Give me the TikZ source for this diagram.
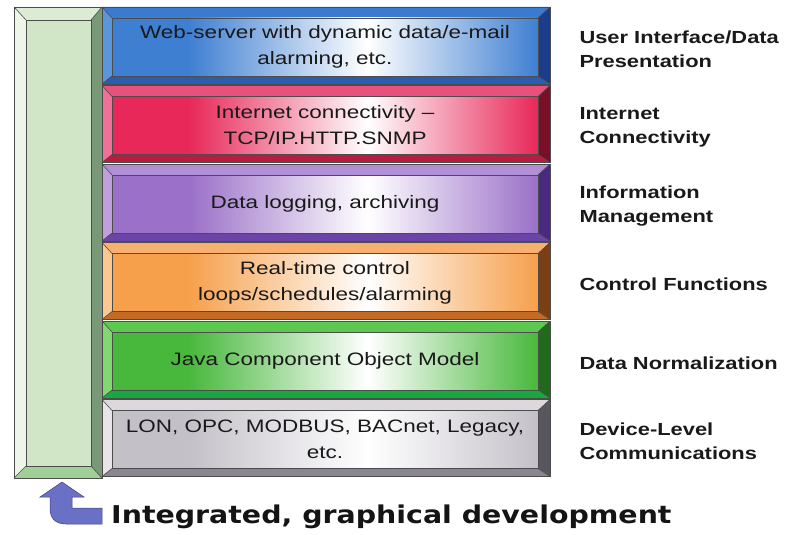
\documentclass[tikz,border=0pt]{standalone}
\usepackage{fontspec}
\setmainfont{Liberation Sans}
\newfontfamily\widesans[FakeStretch=1.25]{Liberation Sans}
\newfontfamily\bottomfont[FakeStretch=1.16]{DejaVu Sans}
\usetikzlibrary{positioning}

% bevel colours: top, left, right, bottom, face
\definecolor{blutop}{HTML}{3A7BD0}\definecolor{bluleft}{HTML}{5A96DC}
\definecolor{bluright}{HTML}{1C3C8C}\definecolor{blubot}{HTML}{2A5CB0}
\definecolor{bluface}{HTML}{3F7FD2}
\definecolor{redtop}{HTML}{E8507E}\definecolor{redleft}{HTML}{F07098}
\definecolor{redright}{HTML}{7A1028}\definecolor{redbot}{HTML}{B81C40}
\definecolor{redface}{HTML}{E82858}
\definecolor{purtop}{HTML}{B28ED4}\definecolor{purleft}{HTML}{C0A0DC}
\definecolor{purright}{HTML}{4A2A80}\definecolor{purbot}{HTML}{6C44A8}
\definecolor{purface}{HTML}{9A70C8}
\definecolor{oratop}{HTML}{F8B070}\definecolor{oraleft}{HTML}{FCC890}
\definecolor{oraright}{HTML}{7A4014}\definecolor{orabot}{HTML}{C46A24}
\definecolor{oraface}{HTML}{F6A04C}
\definecolor{grntop}{HTML}{5CC850}\definecolor{grnleft}{HTML}{80D870}
\definecolor{grnright}{HTML}{206A1C}\definecolor{grnbot}{HTML}{18A840}
\definecolor{grnface}{HTML}{48B83C}
\definecolor{gratop}{HTML}{DCD8DC}\definecolor{graleft}{HTML}{E8E4E8}
\definecolor{graright}{HTML}{58565E}\definecolor{grabot}{HTML}{8A8690}
\definecolor{graface}{HTML}{C4C0C8}
\definecolor{bartop}{HTML}{DCECD4}\definecolor{barleft}{HTML}{EEF6EA}
\definecolor{barright}{HTML}{789878}\definecolor{barbot}{HTML}{A0D098}
\definecolor{barface}{HTML}{D0E6C6}
\definecolor{arrowblue}{HTML}{6A70C6}
\colorlet{lc}{bluface}

\pgfdeclarehorizontalshading[lc]{layerfill}{100bp}{color(0bp)=(lc); color(25bp)=(lc);
  color(34bp)=(lc); color(55bp)=(white); color(75bp)=(lc); color(100bp)=(lc)}

\tikzset{
    edge/.style={draw=black!70, line width=0.6pt},
    boxtext/.style={font=\widesans\fontsize{18}{26}\selectfont, text=black!90,
        align=center},
    sidelabel/.style={font=\widesans\bfseries\fontsize{17.5}{24}\selectfont,
        text=black!90, align=left, anchor=west}
}

% one layer: #1 name, #2 top y, #3 colour prefix, #4 text, #5 side label
\newcommand{\layerbox}[5]{
    \fill[#3top] (102,#2) -- (550,#2) -- (538,#2+11) -- (112,#2+11) -- cycle;
    \fill[#3left] (102,#2) -- (112,#2+11) -- (112,#2+69) -- (102,#2+77) -- cycle;
    \fill[#3right] (550,#2) -- (550,#2+77) -- (538,#2+69) -- (538,#2+11) -- cycle;
    \fill[#3bot] (102,#2+77) -- (550,#2+77) -- (538,#2+69) -- (112,#2+69) -- cycle;
    \colorlet{lc}{#3face}
    \shade[shading=layerfill] (112,#2+11) rectangle (538,#2+69);
    \draw[edge] (102,#2) rectangle (550,#2+77);
    \draw[edge] (112,#2+11) rectangle (538,#2+69);
    \draw[edge] (102,#2) -- (112,#2+11) (550,#2) -- (538,#2+11)
        (102,#2+77) -- (112,#2+69) (550,#2+77) -- (538,#2+69);
    \node[boxtext] (#1) at (325,#2+40) {#4};
    \node[sidelabel] (#1lab) at (576,#2+42) {#5};
}

\begin{document}
\begin{tikzpicture}[x=1pt,y=-1pt]

    \useasboundingbox (0,0) rectangle (788,535);

    % left development bar
    \fill[bartop] (14,7) -- (102,7) -- (91,20) -- (26,20) -- cycle;
    \fill[barleft] (14,7) -- (26,20) -- (26,466) -- (14,478) -- cycle;
    \fill[barright] (102,7) -- (102,478) -- (91,466) -- (91,20) -- cycle;
    \fill[barbot] (14,478) -- (102,478) -- (91,466) -- (26,466) -- cycle;
    \fill[barface] (26,20) rectangle (91,466);
    \draw[edge] (14,7) rectangle (102,478);
    \draw[edge] (26,20) rectangle (91,466);
    \draw[edge] (14,7) -- (26,20) (102,7) -- (91,20)
        (14,478) -- (26,466) (102,478) -- (91,466);
    \coordinate (bar) at (62,478);

    \layerbox{web}{7}{blu}{Web-server with dynamic data/e-mail\\alarming, etc.}
        {User Interface/Data\\Presentation}
    \layerbox{net}{85.5}{red}{Internet connectivity \textendash\\TCP/IP.HTTP.SNMP}
        {Internet\\Connectivity}
    \layerbox{log}{164}{pur}{Data logging, archiving}
        {Information\\Management}
    \layerbox{ctl}{242.5}{ora}{Real-time control\\loops/schedules/alarming}
        {Control Functions}
    \layerbox{java}{321}{grn}{Java Component Object Model}
        {Data Normalization}
    \layerbox{dev}{399.5}{gra}{LON, OPC, MODBUS, BACnet, Legacy,\\etc.}
        {Device-Level\\Communications}

    % bottom caption with bent arrow
    \node[anchor=west, inner sep=0pt,
        font=\bottomfont\bfseries\fontsize{24.5}{28}\selectfont,
        text=black!92
    ] (dev) at (111,517) {Integrated, graphical development};
    \filldraw[fill=arrowblue, draw=arrowblue!60!black, line width=0.5pt]
        (bar) ++(0,4) -- (84,497) -- (72,497) -- (72,508) -- (102,508)
        -- (102,524) -- (66,524) .. controls (55,524) and (50,518) .. (50,508)
        -- (50,497) -- (40,497) -- cycle;

\end{tikzpicture}
\end{document}
